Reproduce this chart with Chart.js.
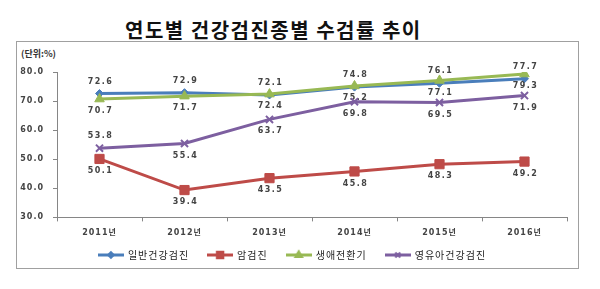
<!DOCTYPE html>
<html>
<head>
<meta charset="utf-8">
<script src="https://cdn.jsdelivr.net/npm/chart.js@4/dist/chart.umd.min.js"></script>
<style>
  body { margin: 0; width: 600px; height: 289px; position: relative; overflow: hidden; background: #fff; font-family: "Noto Sans CJK KR", sans-serif; }
  #title { position: absolute; left: 125px; top: 15px; font-size: 20px; font-weight: 700; letter-spacing: 1.5px; white-space: nowrap; color: #111; }
  #frame { position: absolute; left: 16px; top: 41px; width: 561px; height: 226px; border: 1px solid #a0a0a0; }
  #unit { position: absolute; left: 21px; top: 47px; font-size: 9px; font-weight: 700; color: #333; }
  #chart { position: absolute; left: 0; top: 0; }
</style>
</head>
<body>
<div id="title">연도별 건강검진종별 수검률 추이</div>
<div id="frame"></div>
<div id="unit">(단위:%)</div>
<canvas id="chart" width="600" height="289"></canvas>
<script>
const years = ['2011년', '2012년', '2013년', '2014년', '2015년', '2016년']
const seriesNames = ['일반건강검진', '암검진', '생애전환기', '영유아건강검진']
const general = [72.6, 72.9, 72.1, 74.8, 76.1, 77.7]
const cancer = [50.1, 39.4, 43.5, 45.8, 48.3, 49.2]
const lifeCycle = [70.7, 71.7, 72.4, 75.2, 77.1, 79.3]
const infant = [53.8, 55.4, 63.7, 69.8, 69.5, 71.9]
const yMin = 30
const yMax = 80
const yStep = 10

// where each value label sits: above or below its point
const generalPos = ['up', 'up', 'up', 'up', 'up', 'up']
const cancerPos = ['down', 'down', 'down', 'down', 'down', 'down']
const lifeCyclePos = ['down', 'down', 'down', 'down', 'down', 'down']
const infantPos = ['up', 'down', 'down', 'down', 'down', 'down']

const colors = ['#4a7ebb', '#be4b48', '#98b954', '#7d5fa0']
const markers = [
  { style: 'rectRot', r: 4 },
  { style: 'rect', r: 6.5 },
  { style: 'triangle', r: 5.5 },
  { style: 'crossRot', r: 5 }
]

function legendIcon (i) {
  const c = document.createElement('canvas')
  c.width = 26
  c.height = 12
  const g = c.getContext('2d')
  g.strokeStyle = colors[i]
  g.fillStyle = colors[i]
  g.lineWidth = 3
  g.beginPath()
  g.moveTo(0, 6)
  g.lineTo(26, 6)
  g.stroke()
  g.lineWidth = 2
  Chart.helpers.drawPoint(g, { pointStyle: markers[i].style, radius: markers[i].r * 0.7, borderWidth: 2 }, 13, 6)
  return c
}

const valueLabels = {
  id: 'valueLabels',
  afterDatasetDraw (chart, args) {
    const ds = chart.data.datasets[args.index]
    const ctx = chart.ctx
    ctx.save()
    ctx.font = 'bold 8px "DejaVu Sans"'
    ctx.letterSpacing = '1.5px'
    ctx.fillStyle = '#444'
    ctx.textAlign = 'center'
    ctx.textBaseline = 'middle'
    args.meta.data.forEach((pt, j) => {
      const dy = ds.labelPos[j] === 'up' ? -12 : 12
      ctx.fillText(ds.data[j].toFixed(1), pt.x + 1, pt.y + dy)
    })
    ctx.restore()
  }
}

const spacing = {
  id: 'spacing',
  beforeUpdate (chart) { chart.ctx.letterSpacing = '1px' },
  beforeDraw (chart) { chart.ctx.letterSpacing = '1px' }
}

// pull the legend row up closer to the axis labels
const legendLift = {
  id: 'legendLift',
  afterLayout (chart) {
    chart.legend.top -= 14
    chart.legend.bottom -= 14
  }
}

const values = [general, cancer, lifeCycle, infant]
const positions = [generalPos, cancerPos, lifeCyclePos, infantPos]

const datasets = values.map((v, i) => ({
  label: seriesNames[i],
  data: v,
  labelPos: positions[i],
  borderColor: colors[i],
  backgroundColor: colors[i],
  borderWidth: 3,
  pointStyle: markers[i].style,
  pointRadius: markers[i].r,
  pointBorderWidth: i === 3 ? 2 : 1,
  tension: 0,
  order: 3 - i
}))

const tickFont = { family: '"DejaVu Sans", "Noto Sans CJK KR"', size: 8, weight: 'bold' }

new Chart(document.getElementById('chart'), {
  type: 'line',
  data: { labels: years, datasets },
  plugins: [spacing, valueLabels, legendLift],
  options: {
    responsive: false,
    animation: false,
    layout: { padding: { left: 18, right: 33, top: 72, bottom: 5 } },
    plugins: {
      tooltip: { enabled: false },
      legend: {
        position: 'bottom',
        labels: {
          usePointStyle: true,
          pointStyleWidth: 24,
          padding: 19,
          color: '#222',
          font: { family: '"Noto Sans CJK KR"', size: 10 },
          sort: (a, b) => a.datasetIndex - b.datasetIndex,
          generateLabels (chart) {
            return Chart.defaults.plugins.legend.labels.generateLabels(chart).map(item => {
              item.pointStyle = legendIcon(item.datasetIndex)
              return item
            })
          }
        }
      }
    },
    scales: {
      y: {
        min: yMin,
        max: yMax,
        ticks: { stepSize: yStep, callback: v => v.toFixed(1), font: tickFont, color: '#444', padding: 9 },
        grid: { drawOnChartArea: false, tickLength: 4, color: '#868686' },
        border: { color: '#868686' },
        afterFit: s => { s.width = 39 }
      },
      x: {
        offset: true,
        ticks: { font: tickFont, color: '#444', padding: 7 },
        grid: { offset: true, drawOnChartArea: false, tickLength: 4, color: '#868686' },
        border: { color: '#868686' }
      }
    }
  }
})
</script>
</body>
</html>
